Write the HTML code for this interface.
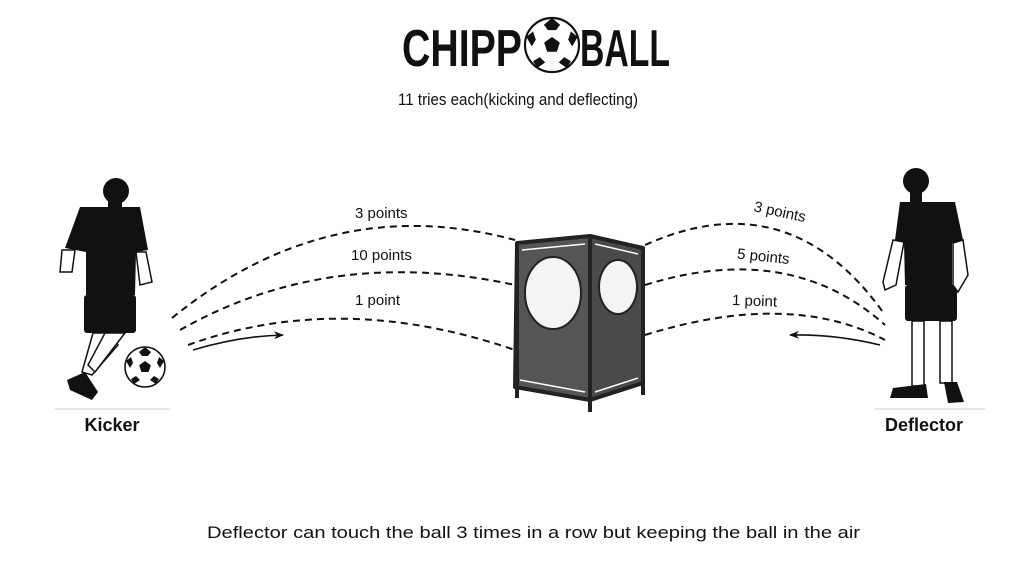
<!DOCTYPE html>
<html><head><meta charset="utf-8"><style>
body{margin:0;background:#fff}
svg{display:block;font-family:"Liberation Sans",sans-serif}
</style></head><body>
<svg width="1024" height="576" viewBox="0 0 1024 576" xmlns="http://www.w3.org/2000/svg">
<defs>
<marker id="ah" markerWidth="10" markerHeight="8" refX="9" refY="4" orient="auto" markerUnits="userSpaceOnUse"><path d="M0,0 L10,4 L0,8 L3,4z" fill="#111"/></marker>
<g id="ball">
<circle r="1" fill="#fff" stroke="#111" stroke-width="0.08"/>
<polygon points="0,-0.3 0.29,-0.09 0.18,0.25 -0.18,0.25 -0.29,-0.09" fill="#111"/>
<polygon points="0,-1 0.3,-0.75 0.15,-0.55 -0.15,-0.55 -0.3,-0.75" fill="#111"/>
<polygon points="0.95,-0.3 0.75,0.05 0.6,-0.2 0.7,-0.5" fill="#111"/>
<polygon points="-0.95,-0.3 -0.75,0.05 -0.6,-0.2 -0.7,-0.5" fill="#111"/>
<polygon points="0.55,0.85 0.25,0.65 0.45,0.45 0.7,0.6" fill="#111"/>
<polygon points="-0.55,0.85 -0.25,0.65 -0.45,0.45 -0.7,0.6" fill="#111"/>
</g>
</defs>
<!-- Title -->
<text x="402" y="66" font-size="52" font-weight="bold" fill="#111" textLength="120" lengthAdjust="spacingAndGlyphs">CHIPP</text>
<use href="#ball" transform="translate(552,45) scale(27)"/>
<text x="580" y="66" font-size="52" font-weight="bold" fill="#111" textLength="90" lengthAdjust="spacingAndGlyphs">BALL</text>
<text x="398" y="105" font-size="17" fill="#111" textLength="240" lengthAdjust="spacingAndGlyphs">11 tries each(kicking and deflecting)</text>

<g fill="none" stroke="#111" stroke-width="2" stroke-dasharray="7,5">
<path d="M172,318 Q330,190 515,240"/>
<path d="M180,330 Q330,245 515,285"/>
<path d="M188,345 Q340,290 515,350"/>
<path d="M645,245 Q790,180 885,315"/>
<path d="M645,285 Q790,240 885,325"/>
<path d="M645,335 Q790,290 885,340"/>
</g>
<path d="M193,350 Q240,336 283,335" fill="none" stroke="#111" stroke-width="1.6" marker-end="url(#ah)"/>
<path d="M880,345 Q835,334 790,335" fill="none" stroke="#111" stroke-width="1.6" marker-end="url(#ah)"/>
<g font-size="15" fill="#111">
<text x="355" y="218">3 points</text>
<text x="351" y="260">10 points</text>
<text x="355" y="305">1 point</text>
<text x="752" y="218" transform="rotate(12 785 220)">3 points</text>
<text x="737" y="262" transform="rotate(6 770 258)">5 points</text>
<text x="732" y="306" transform="rotate(2 760 302)">1 point</text>
</g>

<!-- goal -->
<polygon points="517,243 590,236 590,400 515,387" fill="#555"/>
<polygon points="590,236 643,248 643,383 590,400" fill="#4a4a4a"/>
<ellipse cx="553" cy="293" rx="28" ry="36" fill="#f4f4f4" stroke="#222" stroke-width="2"/>
<ellipse cx="618" cy="287" rx="19" ry="27" fill="#f4f4f4" stroke="#222" stroke-width="2"/>
<g fill="none" stroke="#222" stroke-width="4" stroke-linejoin="round">
<polygon points="517,243 590,236 643,248 643,383 590,400 515,387"/>
<line x1="590" y1="236" x2="590" y2="412"/>
<line x1="517" y1="243" x2="517" y2="398"/>
<line x1="643" y1="248" x2="643" y2="395"/>
</g>
<g fill="none" stroke="#fff" stroke-width="1.5">
<line x1="522" y1="250" x2="585" y2="244"/><line x1="595" y1="244" x2="638" y2="254"/>
<line x1="520" y1="380" x2="585" y2="392"/><line x1="595" y1="392" x2="638" y2="378"/>
</g>

<!-- Kicker -->
<g fill="#111">
<circle cx="116" cy="191" r="13"/>
<rect x="108" y="198" width="14" height="12"/>
<path d="M80,207 L140,207 L148,250 L136,252 L135,295 L86,295 L86,252 L65,248 Z"/>
<rect x="84" y="295" width="52" height="38" rx="3"/>
<path d="M93,333 L110,333 L118,345 L92,375 L82,372 Z" fill="#fff" stroke="#111" stroke-width="1.5"/>
<path d="M105,333 L125,333 L95,372 L88,365 Z" fill="#fff" stroke="#111" stroke-width="1.5"/>
<path d="M67,380 L85,372 L98,392 L92,400 L70,390 Z"/>
<path d="M62,250 L75,250 L72,272 L60,272 Z" fill="#fff" stroke="#111" stroke-width="1.5"/>
<path d="M136,252 L146,252 L152,282 L140,285 Z" fill="#fff" stroke="#111" stroke-width="1.5"/>
</g>
<use href="#ball" transform="translate(145,367) scale(20)"/>
<line x1="55" y1="409" x2="170" y2="409" stroke="#ccc" stroke-width="1"/>
<text x="112" y="431" font-size="18" font-weight="bold" text-anchor="middle" fill="#111">Kicker</text>

<!-- Deflector -->
<g fill="#111">
<circle cx="916" cy="181" r="13"/>
<rect x="910" y="188" width="12" height="14"/>
<path d="M900,202 L955,202 L963,240 L952,243 L952,285 L905,285 L904,243 L895,240 Z"/>
<rect x="905" y="285" width="52" height="36" rx="3"/>
<rect x="912" y="321" width="12" height="65" fill="#fff" stroke="#111" stroke-width="1.5"/>
<rect x="940" y="321" width="12" height="62" fill="#fff" stroke="#111" stroke-width="1.5"/>
<path d="M893,388 L926,384 L928,398 L890,398 Z"/>
<path d="M944,382 L957,382 L964,402 L948,403 Z"/>
<path d="M893,240 L904,242 L896,285 L885,290 L883,282 Z" fill="#fff" stroke="#111" stroke-width="1.5"/>
<path d="M953,243 L963,240 L968,275 L958,292 L953,285 Z" fill="#fff" stroke="#111" stroke-width="1.5"/>
</g>
<line x1="875" y1="409" x2="985" y2="409" stroke="#ccc" stroke-width="1"/>
<text x="924" y="431" font-size="18" font-weight="bold" text-anchor="middle" fill="#111">Deflector</text>

<text x="207" y="538" font-size="17" fill="#111" textLength="653" lengthAdjust="spacingAndGlyphs">Deflector can touch the ball 3 times in a row but keeping the ball in the air</text>
</svg>
</body></html>
